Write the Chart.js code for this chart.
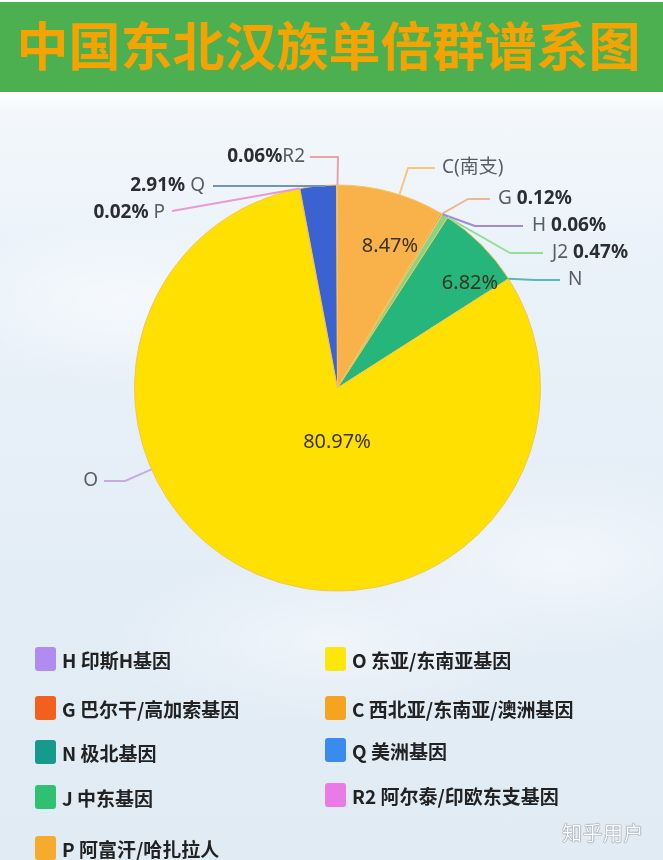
<!DOCTYPE html>
<html>
<head>
<meta charset="utf-8">
<script src="https://cdn.jsdelivr.net/npm/chart.js@4/dist/chart.umd.min.js"></script>
<style>
  html, body { margin: 0; padding: 0; }
  body {
    width: 663px; height: 860px; position: relative; overflow: hidden;
    background:
      radial-gradient(ellipse 260px 120px at 120px 300px, rgba(255,255,255,0.55), rgba(255,255,255,0) 70%),
      radial-gradient(ellipse 300px 140px at 560px 560px, rgba(255,255,255,0.5), rgba(255,255,255,0) 70%),
      radial-gradient(ellipse 320px 120px at 330px 640px, rgba(255,255,255,0.45), rgba(255,255,255,0) 70%),
      linear-gradient(to bottom, #ffffff 0px, #ffffff 92px, #f3f7fb 112px, #eaf2f9 260px, #e3edf6 600px, #e0ebf4 860px);
    font-family: "Noto Sans CJK SC", "Noto Sans", sans-serif;
  }
  #band {
    position: absolute; left: 0; top: 2px; width: 663px; height: 90px;
    background: #4caf50;
    color: #f5a300; font-weight: 700; font-size: 52px; line-height: 90px;
    text-align: center; letter-spacing: 0px; white-space: nowrap;
    font-family: "Noto Sans CJK SC", sans-serif;
  }
  #band span { position: relative; top: -3px; left: -3px; }
  #chart { position: absolute; left: 0; top: 0; }
  .lg { position: absolute; display: flex; align-items: center; font-size: 19px; font-weight: 600; color: #222; white-space: nowrap; }
  .lg i { display: inline-block; width: 21px; height: 24px; border-radius: 3px; margin-right: 6px; }
  #wm { position: absolute; left: 562px; top: 818px; font-size: 20px; color: #ffffff; font-weight: 400;
        text-shadow: 0 0 1px #7d838a, 0 0 1px #7d838a, 0 0 1px #7d838a; letter-spacing: 0.5px; }
</style>
</head>
<body>
<div id="band"><span>中国东北汉族单倍群谱系图</span></div>
<canvas id="chart" width="663" height="860"></canvas>
<div id="legend"></div>
<div id="wm">知乎用户</div>
<script>
// ---- data ----
const categories = ['C', 'G', 'H', 'J2', 'N', 'O', 'P', 'Q', 'R2'];
const shares = [8.47, 0.12, 0.06, 0.47, 6.82, 80.97, 0.02, 2.91, 0.06];
const sliceColors = ['#f9b24a', '#f47a3c', '#a78be0', '#86d68a', '#26b57a', '#ffe000', '#e98ad6', '#3a63d1', '#ee8fa3'];
const legendLabels = ['H 印斯H基因', 'G 巴尔干/高加索基因', 'N 极北基因', 'J 中东基因', 'P 阿富汗/哈扎拉人',
                      'O 东亚/东南亚基因', 'C 西北亚/东南亚/澳洲基因', 'Q 美洲基因', 'R2 阿尔泰/印欧东支基因'];
const legendColors = ['#b08cf0', '#f2601e', '#17998c', '#2fc072', '#f7ab2e',
                      '#ffe60a', '#f6a41f', '#3b8bef', '#e97ae6'];
const calloutValues = ['', '0.12%', '0.06%', '0.47%', '', '', '0.02%', '2.91%', '0.06%'];
const calloutNames = ['C(南支)', 'G', 'H', 'J2', 'N', 'O', 'P', 'Q', 'R2'];
const innerLabels = ['8.47%', '', '', '', '6.82%', '80.97%', '', '', ''];

// ---- layout / style (relative to pie center) ----
const calloutLayout = [
  { side: 'L', tx: 104.5, ty: -220, sx: 97.5, sy: -220, ex: 70.5, ey: -220, color: '#f6c67c' },   // C
  { side: 'L', tx: 160.5, ty: -189, sx: 152.5, sy: -189, ex: 130.5, ey: -189, color: '#f3b495' }, // G
  { side: 'L', tx: 194.5, ty: -162, sx: 185.5, sy: -162, ex: 137.5, ey: -162, color: '#a28ad8' }, // H
  { side: 'L', tx: 214.5, ty: -135, sx: 205.5, sy: -135, ex: 172.5, ey: -135, color: '#94dc98' }, // J2
  { side: 'L', tx: 230.5, ty: -108, sx: 222.5, sy: -108, ex: 197.5, ey: -108, color: '#5bb8ad' }, // N
  { side: 'R', tx: -239.5, ty: 93, sx: -233.5, sy: 93, ex: -212.5, ey: 93, color: '#c9abe3' },    // O
  { side: 'R', tx: -172.5, ty: -175, sx: -165.5, sy: -177, ex: -165.5, ey: -177, color: '#e99ad0' }, // P
  { side: 'R', tx: -132.5, ty: -202, sx: -124.5, sy: -202, ex: -12.5, ey: -202, color: '#7393ba' },  // Q
  { side: 'R', tx: -32.5, ty: -231, sx: -27.5, sy: -231, ex: 0.5, ey: -231, color: '#eaa3a3' }    // R2
];
const innerLayout = [[52.5, -142], null, null, null, [132.5, -105], [-0.5, 54], null, null, null];

// ---- HTML legend ----
const legendEl = document.getElementById('legend');
const legendPos = [[35, 659], [35, 708], [35, 752], [35, 797], [35, 848],
                   [325, 659], [325, 708], [325, 750], [325, 795]];
legendLabels.forEach((lab, i) => {
  const d = document.createElement('div');
  d.className = 'lg';
  d.style.left = legendPos[i][0] + 'px';
  d.style.top = (legendPos[i][1] - 14) + 'px';
  d.style.height = '28px';
  d.innerHTML = '<i style="background:' + legendColors[i] + '"></i><span>' + lab + '</span>';
  legendEl.appendChild(d);
});

// ---- callout plugin ----
const calloutPlugin = {
  id: 'callouts',
  afterDatasetsDraw(chart) {
    const ctx = chart.ctx;
    const meta = chart.getDatasetMeta(0);
    ctx.save();
    meta.data.forEach((arc, i) => {
      const cx = arc.x, cy = arc.y, r = arc.outerRadius;
      if (innerLayout[i] && innerLabels[i]) {
        ctx.font = '400 20px "Noto Sans", sans-serif';
        ctx.fillStyle = '#3b3420';
        ctx.textAlign = 'center';
        ctx.textBaseline = 'middle';
        ctx.fillText(innerLabels[i], cx + innerLayout[i][0], cy + innerLayout[i][1]);
      }
      const L = calloutLayout[i];
      if (!L) return;
      let a = Math.atan2(L.ey, L.ex);
      const s = arc.startAngle, e = arc.endAngle;
      while (a < s) a += Math.PI * 2;
      while (a > s + Math.PI * 2) a -= Math.PI * 2;
      if (a > e) {
        const dE = a - e, dS = s + Math.PI * 2 - a;
        a = dE < dS ? e : s;
      }
      const px = cx + r * Math.cos(a), py = cy + r * Math.sin(a);
      ctx.strokeStyle = L.color;
      ctx.lineWidth = 2;
      ctx.lineJoin = 'round';
      ctx.beginPath();
      ctx.moveTo(cx + L.sx, cy + L.sy);
      ctx.lineTo(cx + L.ex, cy + L.ey);
      ctx.lineTo(px, py);
      ctx.stroke();
      ctx.textBaseline = 'middle';
      const boldFont = '700 19px "Noto Sans", sans-serif';
      const regFont = '400 19px "Noto Sans", "Noto Sans CJK SC", sans-serif';
      const val = calloutValues[i], name = calloutNames[i];
      const x0 = cx + L.tx, y0 = cy + L.ty;
      ctx.textAlign = 'left';
      if (L.side === 'L') {
        ctx.font = regFont; ctx.fillStyle = '#5a5d62';
        const nm = val ? name + ' ' : name;
        ctx.fillText(nm, x0, y0);
        const w = ctx.measureText(nm).width;
        if (val) { ctx.font = boldFont; ctx.fillStyle = '#2b2d31'; ctx.fillText(val, x0 + w, y0); }
      } else {
        ctx.font = regFont;
        const nm = (val && name !== 'R2') ? ' ' + name : name;
        const wN = ctx.measureText(nm).width;
        ctx.font = boldFont;
        const wV = val ? ctx.measureText(val).width : 0;
        const start = x0 - wN - wV;
        if (val) { ctx.fillStyle = '#2b2d31'; ctx.fillText(val, start, y0); }
        ctx.font = regFont; ctx.fillStyle = '#5a5d62';
        ctx.fillText(nm, start + wV, y0);
      }
    });
    ctx.restore();
  }
};

new Chart(document.getElementById('chart'), {
  type: 'pie',
  data: {
    labels: categories,
    datasets: [{
      data: shares,
      backgroundColor: sliceColors,
      borderColor: '#f4c45c',
      borderWidth: 1
    }]
  },
  options: {
    responsive: false,
    animation: false,
    radius: 203,
    layout: { padding: { left: 100, right: 88, top: 150, bottom: 234 } },
    plugins: { legend: { display: false }, tooltip: { enabled: false } }
  },
  plugins: [calloutPlugin]
});
</script>
</body>
</html>
